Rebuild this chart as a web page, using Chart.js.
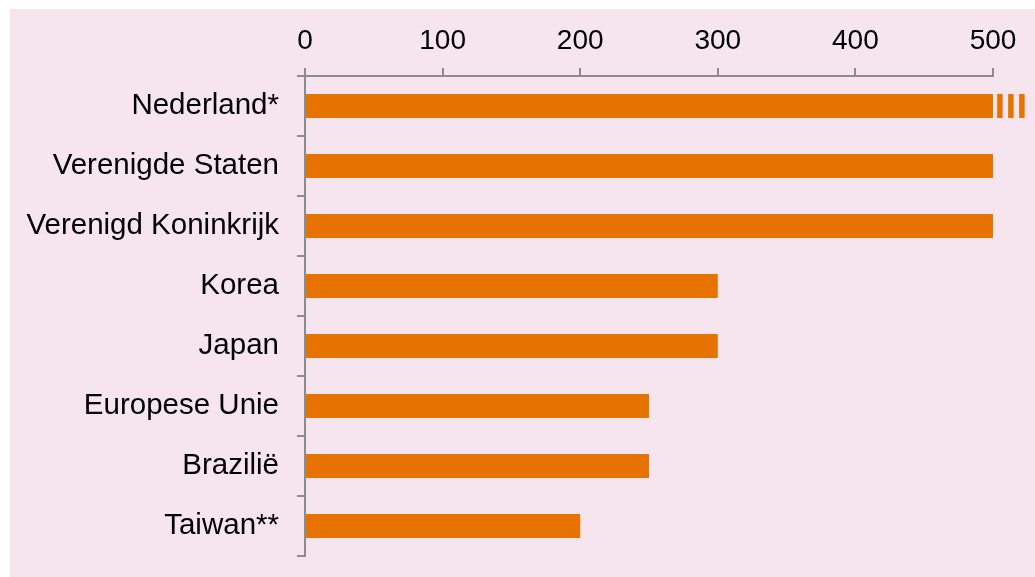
<!DOCTYPE html>
<html>
<head>
<meta charset="utf-8">
<script src="https://cdn.jsdelivr.net/npm/chart.js@4/dist/chart.umd.min.js"></script>
<style>
  html, body { margin: 0; padding: 0; background: #ffffff; }
  #wrap { position: absolute; left: 10px; top: 9px; width: 1025px; height: 568px; background: #F6E4EF; }
  canvas { display: block; }
</style>
</head>
<body>
<div id="wrap"><canvas id="c" width="1025" height="568"></canvas></div>
<script>
const categories = ['Nederland*', 'Verenigde Staten', 'Verenigd Koninkrijk', 'Korea', 'Japan', 'Europese Unie', 'Brazilië', 'Taiwan**'];
const values = [500, 500, 500, 300, 300, 250, 250, 200];
// broken-bar marks beyond the axis end for Nederland*
const breakMark1 = [[503, 507], null, null, null, null, null, null, null];
const breakMark2 = [[511, 515], null, null, null, null, null, null, null];
const breakMark3 = [[519, 523], null, null, null, null, null, null, null];
const xTicks = [0, 100, 200, 300, 400, 500];

const barColor = '#E67300';
const axisColor = '#8C8C8C';
const fontX = { family: '"Liberation Sans", Arial, sans-serif', size: 28 };
const fontY = { family: '"Liberation Sans", Arial, sans-serif', size: 29.5 };

function stripe(data) {
  return { data: data, backgroundColor: barColor, borderWidth: 0, grouped: false, clip: false,
           barPercentage: 0.4, categoryPercentage: 1.0 };
}

new Chart(document.getElementById('c'), {
  type: 'bar',
  data: {
    labels: categories,
    datasets: [
      { data: values, backgroundColor: barColor, borderWidth: 0, grouped: false,
        barPercentage: 0.4, categoryPercentage: 1.0 },
      stripe(breakMark1), stripe(breakMark2), stripe(breakMark3)
    ]
  },
  options: {
    indexAxis: 'y',
    responsive: false,
    animation: false,
    layout: { padding: { left: 0, top: 0, right: 42, bottom: 21 } },
    plugins: { legend: { display: false }, tooltip: { enabled: false } },
    scales: {
      x: {
        position: 'top',
        min: 0, max: 500,
        afterBuildTicks: (s) => { s.ticks = xTicks.map(v => ({ value: v })); },
        grid: { display: true, drawOnChartArea: false, drawTicks: true, tickLength: 8, color: axisColor, lineWidth: 2 },
        border: { display: true, color: axisColor, width: 2 },
        ticks: { color: '#000', font: fontX, padding: 10, maxRotation: 0 },
        afterFit: (s) => { s.height = 67; s.paddingRight = 0; }
      },
      y: {
        grid: { display: true, drawOnChartArea: false, drawTicks: true, tickLength: 8, color: axisColor, lineWidth: 2, offset: true },
        border: { display: true, color: axisColor, width: 2 },
        ticks: { color: '#000', font: fontY, padding: 18 },
        afterFit: (s) => { s.width = 295; s.paddingTop = 0; s.paddingBottom = 0; }
      }
    }
  }
});
</script>
</body>
</html>
